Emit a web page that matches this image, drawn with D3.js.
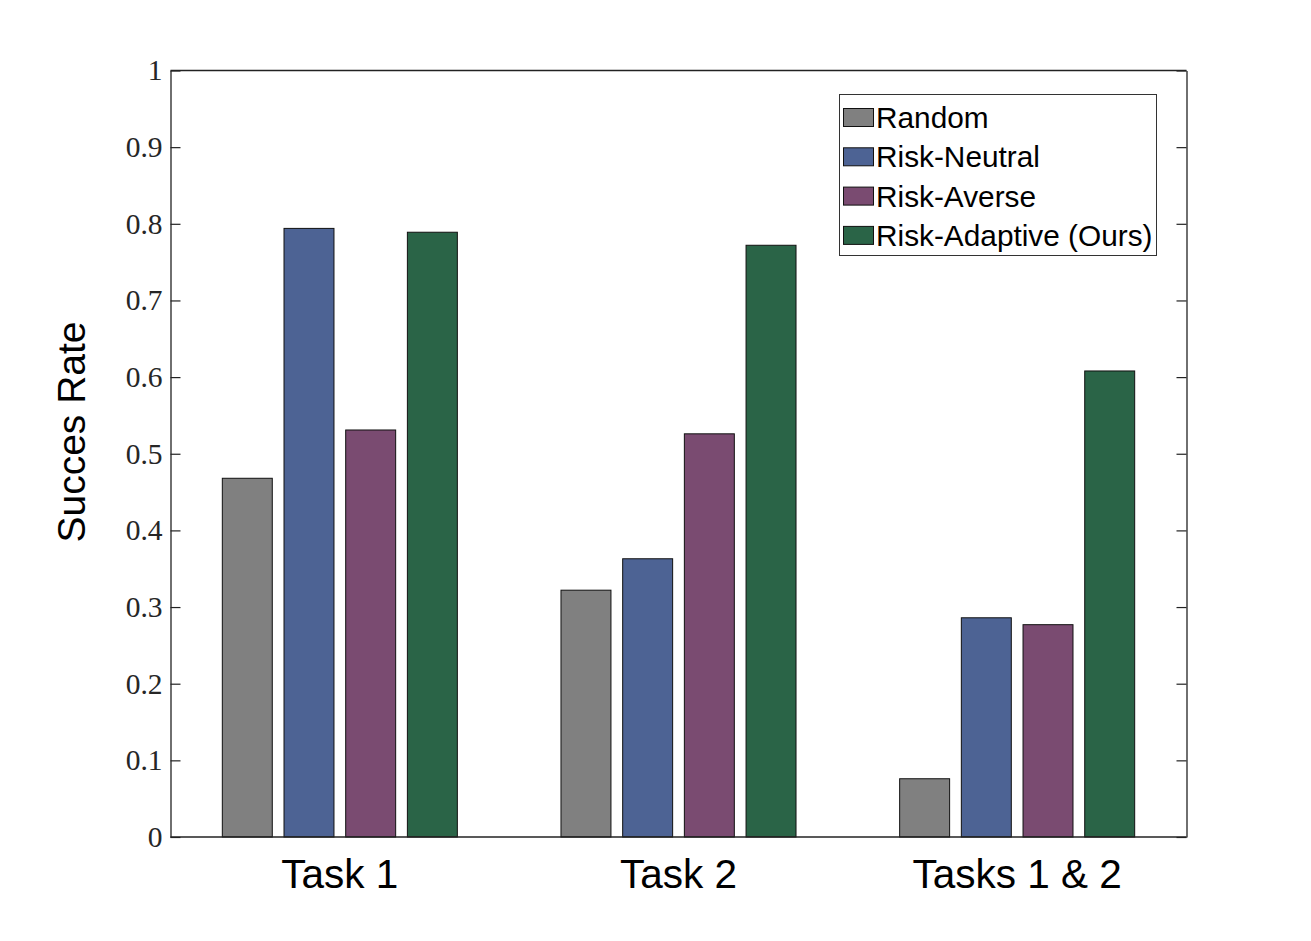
<!DOCTYPE html>
<html>
<head>
<meta charset="utf-8">
<script src="https://cdn.jsdelivr.net/npm/d3@7"></script>
<style>
  html, body { margin: 0; padding: 0; background: #ffffff; }
  svg { display: block; }
</style>
</head>
<body>
<svg id="chart" width="1311" height="941"></svg>
<script>
// ---- data ----
const categories = ["Task 1", "Task 2", "Tasks 1 & 2"];
const seriesNames = ["Random", "Risk-Neutral", "Risk-Averse", "Risk-Adaptive (Ours)"];
const randomValues = [0.468, 0.322, 0.076];
const neutralValues = [0.794, 0.363, 0.286];
const averseValues = [0.531, 0.526, 0.277];
const adaptiveValues = [0.789, 0.772, 0.608];
const yTicks = [0, 0.1, 0.2, 0.3, 0.4, 0.5, 0.6, 0.7, 0.8, 0.9, 1];
const yTickLabels = ["0", "0.1", "0.2", "0.3", "0.4", "0.5", "0.6", "0.7", "0.8", "0.9", "1"];
const seriesColors = ["#808080", "#4d6394", "#7a4b71", "#2a6447"];

const seriesValues = [randomValues, neutralValues, averseValues, adaptiveValues];

// ---- layout ----
const mLeft = 170.5, mRight = 1186.5, mTop = 70.5, mBottom = 837;
const svg = d3.select("#chart");

const x0 = d3.scaleBand().domain(categories).range([mLeft, mRight])
  .paddingInner(0.306).paddingOuter(0.153);
const x1 = d3.scaleBand().domain(seriesNames).range([0, x0.bandwidth()])
  .paddingInner(0.19).paddingOuter(0);
const y = d3.scaleLinear().domain([0, 1]).range([mBottom, mTop]);

// bars
const rows = [];
categories.forEach((c, i) => {
  seriesNames.forEach((s, j) => {
    rows.push({ cat: c, series: s, value: seriesValues[j][i], color: seriesColors[j] });
  });
});

svg.append("g").selectAll("rect").data(rows).join("rect")
  .attr("x", d => x0(d.cat) + x1(d.series))
  .attr("y", d => y(d.value))
  .attr("width", x1.bandwidth())
  .attr("height", d => y(0) - y(d.value))
  .attr("fill", d => d.color)
  .attr("stroke", "#111")
  .attr("stroke-width", 1);

// axes (MATLAB style: box, inward ticks)
const axisFont = "'Liberation Serif', 'Times New Roman', serif";
const yAxisL = d3.axisLeft(y).tickValues(yTicks)
  .tickFormat((d, i) => yTickLabels[i]).tickSizeInner(-10).tickSizeOuter(0).tickPadding(8);
const gL = svg.append("g").attr("transform", `translate(${mLeft},0)`).call(yAxisL);
gL.select(".domain").attr("stroke", "#222").attr("stroke-width", 1.3);
gL.selectAll(".tick line").attr("stroke", "#222").attr("stroke-width", 1.2);
gL.selectAll(".tick text").attr("font-family", axisFont).attr("font-size", 29.5)
  .attr("fill", "#262626");

const yAxisR = d3.axisRight(y).tickValues(yTicks).tickFormat("")
  .tickSizeInner(-10).tickSizeOuter(0);
const gR = svg.append("g").attr("transform", `translate(${mRight},0)`).call(yAxisR);
gR.select(".domain").attr("stroke", "#222").attr("stroke-width", 1.3);
gR.selectAll(".tick line").attr("stroke", "#222").attr("stroke-width", 1.2);

// top & bottom lines
svg.append("line").attr("x1", mLeft).attr("x2", mRight).attr("y1", mTop).attr("y2", mTop)
  .attr("stroke", "#222").attr("stroke-width", 1.3);
svg.append("line").attr("x1", mLeft).attr("x2", mRight).attr("y1", mBottom).attr("y2", mBottom)
  .attr("stroke", "#222").attr("stroke-width", 1.3);

// x category labels
const sansFont = "'Liberation Sans', Arial, Helvetica, sans-serif";
const xAxis = d3.axisBottom(x0).tickSize(0).tickPadding(0);
const gX = svg.append("g").attr("transform", `translate(0,${mBottom})`).call(xAxis);
gX.select(".domain").remove();
gX.selectAll(".tick text")
  .attr("font-family", sansFont).attr("font-size", 40.5).attr("fill", "#000")
  .attr("dy", null).attr("y", 51);

// y axis label
svg.append("text")
  .attr("transform", `translate(85,432) rotate(-90)`)
  .attr("text-anchor", "middle")
  .attr("font-family", sansFont).attr("font-size", 39).attr("fill", "#000")
  .text("Succes Rate");

// legend
const lg = svg.append("g");
lg.append("rect").attr("x", 839.5).attr("y", 94.5).attr("width", 317).attr("height", 161)
  .attr("fill", "#fff").attr("stroke", "#333").attr("stroke-width", 1);
seriesNames.forEach((s, i) => {
  const cy = 117.5 + i * 39.3;
  lg.append("rect").attr("x", 843.5).attr("y", cy - 9).attr("width", 30).attr("height", 18)
    .attr("fill", seriesColors[i]).attr("stroke", "#111").attr("stroke-width", 1);
  lg.append("text").attr("x", 876).attr("y", cy + 10.5)
    .attr("font-family", sansFont).attr("font-size", 29.8).attr("fill", "#000")
    .text(s);
});
</script>
</body>
</html>
